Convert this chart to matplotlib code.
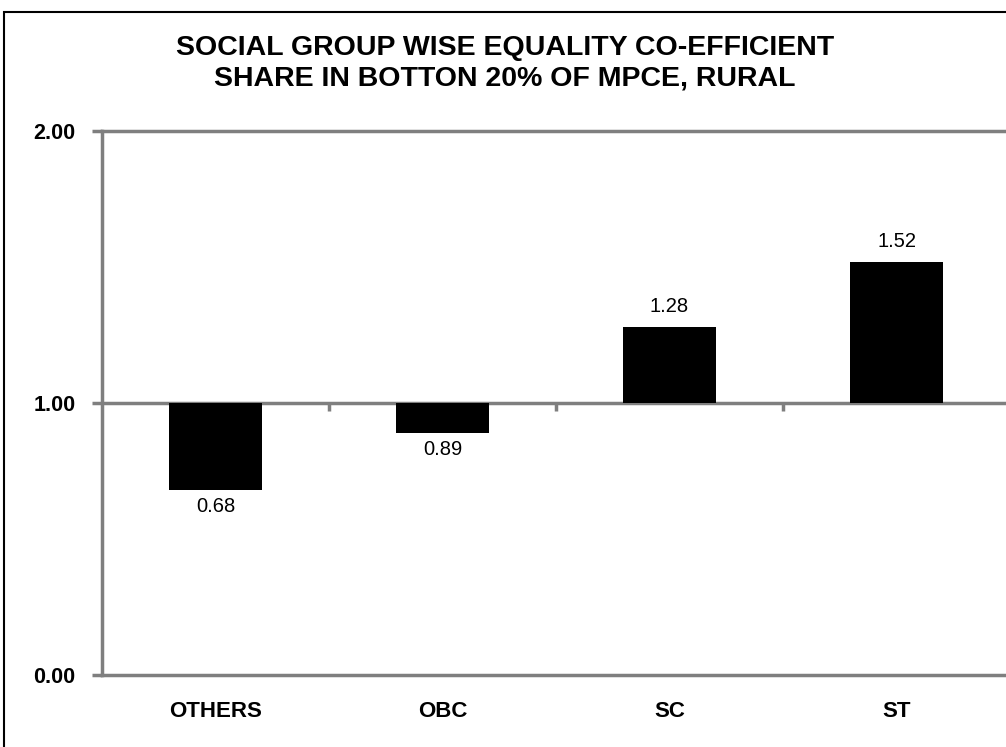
import matplotlib.pyplot as plt
from matplotlib.patches import Rectangle

groups = ["OTHERS", "OBC", "SC", "ST"]
coeff = [0.68, 0.89, 1.28, 1.52]
yticks = [0.0, 1.0, 2.0]
base = 1.0

plt.rcParams['font.family'] = ['Liberation Sans', 'DejaVu Sans']
GREY = '#7f7f7f'

fig = plt.figure(figsize=(10.06, 7.47), dpi=100)
ax = fig.add_axes([102/1006, 1 - 675/747, 904/1006, (675 - 131)/747])

x = range(len(groups))
heights = [v - base for v in coeff]
bars = ax.bar(x, heights, bottom=base, width=0.41, color='black', zorder=3)

# value labels: above bars that rise over the baseline, below those that fall short
for b, v in zip(bars, coeff):
    cx = b.get_x() + b.get_width() / 2
    if v >= base:
        ax.text(cx, v + 0.04, f"{v:.2f}", ha='center', va='bottom', fontsize=14.5)
    else:
        ax.text(cx, v - 0.025, f"{v:.2f}", ha='center', va='top', fontsize=14.5)

# baseline at 1.00 with small separators between categories
ax.axhline(base, color=GREY, lw=2.5, zorder=2)
ax.vlines([0.5, 1.5, 2.5], base - 0.03, base, color=GREY, lw=2.5, zorder=2)

ax.set_xlim(-0.5, -0.5 + 904/227)
ax.set_ylim(0, 2)
ax.set_yticks(yticks)
ax.set_yticklabels([f"{t:.2f}" for t in yticks], fontsize=15.5, fontweight='bold')
ax.set_xticks(list(x))
ax.set_xticklabels(groups, fontsize=16, fontweight='bold')
ax.tick_params(axis='x', length=0, pad=19)
ax.tick_params(axis='y', length=7, width=2.5, color=GREY, pad=12)

for side in ['left', 'top', 'bottom']:
    ax.spines[side].set_color(GREY)
    ax.spines[side].set_linewidth(2.5)
ax.spines['right'].set_visible(False)

fig.text(505/1006, 1 - 63/747,
         "SOCIAL GROUP WISE EQUALITY CO-EFFICIENT\nSHARE IN BOTTON 20% OF MPCE, RURAL",
         ha='center', va='center', fontsize=20.5, fontweight='bold', linespacing=1.2)

# chart frame
fig.patches.append(Rectangle((4/1006, -0.1), 1.2, 1 - 12/747 + 0.1,
                             transform=fig.transFigure, fill=False,
                             edgecolor='black', lw=1.5))

fig.savefig("out.png", dpi=100)
